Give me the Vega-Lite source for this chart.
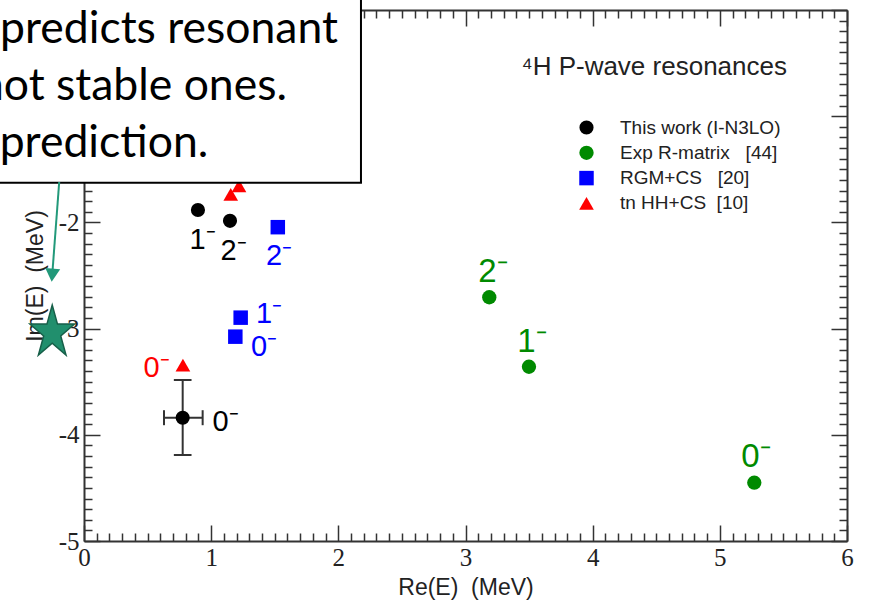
{
  "$schema": "https://vega.github.io/schema/vega-lite/v6.json",
  "width": 763,
  "height": 531,
  "autosize": {"type": "none"},
  "padding": {"left": 84, "top": 10, "right": 29, "bottom": 61},
  "background": "white",
  "datasets": {
    "points": [
      {"series": "This work (I-N3LO)", "x": 0.896, "y": -1.883},
      {"series": "This work (I-N3LO)", "x": 1.148, "y": -1.985},
      {"series": "This work (I-N3LO)", "x": 0.776, "y": -3.839},
      {"series": "Exp R-matrix\u00a0\u00a0\u00a0[44]", "x": 3.187, "y": -2.705},
      {"series": "Exp R-matrix\u00a0\u00a0\u00a0[44]", "x": 3.499, "y": -3.359},
      {"series": "Exp R-matrix\u00a0\u00a0\u00a0[44]", "x": 5.271, "y": -4.451},
      {"series": "RGM+CS\u00a0\u00a0\u00a0[20]", "x": 1.524, "y": -2.045},
      {"series": "RGM+CS\u00a0\u00a0\u00a0[20]", "x": 1.232, "y": -2.897},
      {"series": "RGM+CS\u00a0\u00a0\u00a0[20]", "x": 1.19, "y": -3.076},
      {"series": "tn HH+CS\u00a0\u00a0[10]", "x": 0.778, "y": -3.343},
      {"series": "tn HH+CS\u00a0\u00a0[10]", "x": 1.154, "y": -1.737},
      {"series": "tn HH+CS\u00a0\u00a0[10]", "x": 1.219, "y": -1.657}
    ],
    "labels": [
      {"series": "This work (I-N3LO)", "text": "1\u207b", "x": 0.933, "y": -2.166},
      {"series": "This work (I-N3LO)", "text": "2\u207b", "x": 1.177, "y": -2.265},
      {"series": "This work (I-N3LO)", "text": "0\u207b", "x": 1.113, "y": -3.877},
      {"series": "RGM+CS\u00a0\u00a0\u00a0[20]", "text": "2\u207b", "x": 1.533, "y": -2.313},
      {"series": "RGM+CS\u00a0\u00a0\u00a0[20]", "text": "1\u207b", "x": 1.455, "y": -2.864},
      {"series": "RGM+CS\u00a0\u00a0\u00a0[20]", "text": "0\u207b", "x": 1.415, "y": -3.173},
      {"series": "tn HH+CS\u00a0\u00a0[10]", "text": "0\u207b", "x": 0.571, "y": -3.375},
      {"series": "Exp R-matrix\u00a0\u00a0\u00a0[44]", "text": "2\u207b", "x": 3.216, "y": -2.469},
      {"series": "Exp R-matrix\u00a0\u00a0\u00a0[44]", "text": "1\u207b", "x": 3.523, "y": -3.123},
      {"series": "Exp R-matrix\u00a0\u00a0\u00a0[44]", "text": "0\u207b", "x": 5.284, "y": -4.206}
    ],
    "err": [
      {"x": 0.776, "y": -3.839, "xlo": 0.629, "xhi": 0.933, "ylo": -4.19, "yhi": -3.484}
    ],
    "title": [
      {"text": "\u2074H P-wave resonances", "x": 5.528, "y": -0.612}
    ],
    "box": [
      {"x1": -1, "x2": 2.178, "y1": -1.626, "y2": 0.4}
    ],
    "note": [
      {"text": "predicts resonant", "x": 1.997, "y": -0.314},
      {"text": "not stable ones.", "x": 1.596, "y": -0.847},
      {"text": "prediction.", "x": 0.977, "y": -1.381}
    ],
    "arrow": [
      {"x": -0.195, "y": -1.62, "x2": -0.25, "y2": -2.497}
    ],
    "star": [
      {"x": -0.25, "y": -3.038}
    ]
  },
  "config": {
    "view": {"stroke": null},
    "axis": {
      "grid": false,
      "domainColor": "#333333",
      "domainWidth": 2,
      "tickColor": "#333333",
      "tickWidth": 1.5,
      "labelFont": "Liberation Serif",
      "labelFontSize": 25,
      "labelColor": "#222222",
      "labelFlush": false,
      "labelOverlap": false,
      "labelBound": false,
      "titleFont": "Liberation Sans",
      "titleFontSize": 23,
      "titleFontWeight": "normal",
      "titleColor": "#222222"
    }
  },
  "resolve": {"axis": {"x": "independent", "y": "independent"}},
  "layer": [
    {
      "data": {"name": "err"},
      "mark": {"type": "rule", "color": "#333333", "strokeWidth": 2},
      "encoding": {
        "x": {"field": "xlo", "type": "quantitative", "scale": {"domain": [0, 6], "nice": false, "zero": false}, "axis": null},
        "x2": {"field": "xhi"},
        "y": {"field": "y", "type": "quantitative", "scale": {"domain": [-5, 0], "nice": false, "zero": false}, "axis": null}
      }
    },
    {
      "data": {"name": "err"},
      "mark": {"type": "rule", "color": "#333333", "strokeWidth": 2},
      "encoding": {
        "x": {"field": "x", "type": "quantitative", "scale": {"domain": [0, 6], "nice": false, "zero": false}, "axis": null},
        "y": {"field": "ylo", "type": "quantitative", "scale": {"domain": [-5, 0], "nice": false, "zero": false}, "axis": null},
        "y2": {"field": "yhi"}
      }
    },
    {
      "data": {"name": "err"},
      "transform": [{"fold": ["ylo", "yhi"], "as": ["k", "v"]}],
      "mark": {"type": "point", "shape": "stroke", "size": 313, "stroke": "#333333", "strokeWidth": 2, "filled": false, "opacity": 1},
      "encoding": {
        "x": {"field": "x", "type": "quantitative", "scale": {"domain": [0, 6], "nice": false, "zero": false}, "axis": null},
        "y": {"field": "v", "type": "quantitative", "scale": {"domain": [-5, 0], "nice": false, "zero": false}, "axis": null}
      }
    },
    {
      "data": {"name": "err"},
      "transform": [{"fold": ["xlo", "xhi"], "as": ["k", "v"]}],
      "mark": {"type": "point", "shape": "stroke", "angle": 90, "size": 225, "stroke": "#333333", "strokeWidth": 2, "filled": false, "opacity": 1},
      "encoding": {
        "x": {"field": "v", "type": "quantitative", "scale": {"domain": [0, 6], "nice": false, "zero": false}, "axis": null},
        "y": {"field": "y", "type": "quantitative", "scale": {"domain": [-5, 0], "nice": false, "zero": false}, "axis": null}
      }
    },
    {
      "data": {"name": "points"},
      "mark": {"type": "point", "filled": true, "opacity": 1, "strokeWidth": 0},
      "encoding": {
        "x": {
          "field": "x", "type": "quantitative",
          "scale": {"domain": [0, 6], "nice": false, "zero": false},
          "axis": {
            "orient": "bottom",
            "title": "Re(E)\u00a0\u00a0(MeV)",
            "values": [0,0.1,0.2,0.3,0.4,0.5,0.6,0.7,0.8,0.9,1,1.1,1.2,1.3,1.4,1.5,1.6,1.7,1.8,1.9,2,2.1,2.2,2.3,2.4,2.5,2.6,2.7,2.8,2.9,3,3.1,3.2,3.3,3.4,3.5,3.6,3.7,3.8,3.9,4,4.1,4.2,4.3,4.4,4.5,4.6,4.7,4.8,4.9,5,5.1,5.2,5.3,5.4,5.5,5.6,5.7,5.8,5.9,6],
            "tickSize": {"condition": {"test": "abs(datum.value - round(datum.value)) < 0.001", "value": -16}, "value": -8},
            "labelExpr": "abs(datum.value - round(datum.value)) < 0.001 ? '' + round(datum.value) : ''",
            "labelPadding": 20,
            "titlePadding": -2
          }
        },
        "y": {
          "field": "y", "type": "quantitative",
          "scale": {"domain": [-5, 0], "nice": false, "zero": false},
          "axis": {
            "orient": "left",
            "title": "Im(E)\u00a0\u00a0(MeV)",
            "values": [-5,-4.9,-4.8,-4.7,-4.6,-4.5,-4.4,-4.3,-4.2,-4.1,-4,-3.9,-3.8,-3.7,-3.6,-3.5,-3.4,-3.3,-3.2,-3.1,-3,-2.9,-2.8,-2.7,-2.6,-2.5,-2.4,-2.3,-2.2,-2.1,-2,-1.9,-1.8,-1.7,-1.6,-1.5,-1.4,-1.3,-1.2,-1.1,-1,-0.9,-0.8,-0.7,-0.6,-0.5,-0.4,-0.3,-0.2,-0.1,0],
            "tickSize": {"condition": {"test": "abs(datum.value - round(datum.value)) < 0.001", "value": -16}, "value": -8},
            "labelExpr": "abs(datum.value - round(datum.value)) < 0.001 && datum.value < -0.5 ? '' + round(datum.value) : ''",
            "labelPadding": 21,
            "titlePadding": 11
          }
        },
        "color": {
          "field": "series", "type": "nominal",
          "scale": {"domain": ["This work (I-N3LO)", "Exp R-matrix\u00a0\u00a0\u00a0[44]", "RGM+CS\u00a0\u00a0\u00a0[20]", "tn HH+CS\u00a0\u00a0[10]"], "range": ["#000000", "#008a00", "#0000ff", "#ff0000"]},
          "legend": {"title": null, "orient": "none", "legendX": 493, "legendY": 108, "padding": 0, "labelFont": "Liberation Sans", "labelFontSize": 19, "labelColor": "#222222", "labelOffset": 24, "rowPadding": 5.3, "labelLimit": 400, "symbolStrokeWidth": 0}
        },
        "shape": {
          "field": "series", "type": "nominal",
          "scale": {"domain": ["This work (I-N3LO)", "Exp R-matrix\u00a0\u00a0\u00a0[44]", "RGM+CS\u00a0\u00a0\u00a0[20]", "tn HH+CS\u00a0\u00a0[10]"], "range": ["circle", "circle", "square", "triangle-up"]},
          "legend": {"title": null, "orient": "none", "legendX": 493, "legendY": 108, "padding": 0, "labelFont": "Liberation Sans", "labelFontSize": 19, "labelColor": "#222222", "labelOffset": 24, "rowPadding": 5.3, "labelLimit": 400, "symbolStrokeWidth": 0}
        },
        "size": {
          "field": "series", "type": "nominal",
          "scale": {"domain": ["This work (I-N3LO)", "Exp R-matrix\u00a0\u00a0\u00a0[44]", "RGM+CS\u00a0\u00a0\u00a0[20]", "tn HH+CS\u00a0\u00a0[10]"], "range": [200, 215, 150, 180]},
          "legend": {"title": null, "orient": "none", "legendX": 493, "legendY": 108, "padding": 0, "labelFont": "Liberation Sans", "labelFontSize": 19, "labelColor": "#222222", "labelOffset": 24, "rowPadding": 5.3, "labelLimit": 400, "symbolStrokeWidth": 0}
        }
      }
    },
    {
      "data": {"name": "labels"},
      "transform": [{"filter": "datum.series != 'Exp R-matrix\u00a0\u00a0\u00a0[44]'"}],
      "mark": {"type": "text", "font": "Liberation Sans", "fontSize": 29, "align": "center", "baseline": "middle"},
      "encoding": {
        "x": {
          "field": "x", "type": "quantitative",
          "scale": {"domain": [0, 6], "nice": false, "zero": false},
          "axis": {
            "orient": "top",
            "title": null,
            "labels": false,
            "values": [0,0.1,0.2,0.3,0.4,0.5,0.6,0.7,0.8,0.9,1,1.1,1.2,1.3,1.4,1.5,1.6,1.7,1.8,1.9,2,2.1,2.2,2.3,2.4,2.5,2.6,2.7,2.8,2.9,3,3.1,3.2,3.3,3.4,3.5,3.6,3.7,3.8,3.9,4,4.1,4.2,4.3,4.4,4.5,4.6,4.7,4.8,4.9,5,5.1,5.2,5.3,5.4,5.5,5.6,5.7,5.8,5.9,6],
            "tickSize": {"condition": {"test": "abs(datum.value - round(datum.value)) < 0.001", "value": -16}, "value": -8}
          }
        },
        "y": {
          "field": "y", "type": "quantitative",
          "scale": {"domain": [-5, 0], "nice": false, "zero": false},
          "axis": {
            "orient": "right",
            "title": null,
            "labels": false,
            "values": [-5,-4.9,-4.8,-4.7,-4.6,-4.5,-4.4,-4.3,-4.2,-4.1,-4,-3.9,-3.8,-3.7,-3.6,-3.5,-3.4,-3.3,-3.2,-3.1,-3,-2.9,-2.8,-2.7,-2.6,-2.5,-2.4,-2.3,-2.2,-2.1,-2,-1.9,-1.8,-1.7,-1.6,-1.5,-1.4,-1.3,-1.2,-1.1,-1,-0.9,-0.8,-0.7,-0.6,-0.5,-0.4,-0.3,-0.2,-0.1,0],
            "tickSize": {"condition": {"test": "abs(datum.value - round(datum.value)) < 0.001", "value": -16}, "value": -8}
          }
        },
        "text": {"field": "text"},
        "color": {
          "field": "series", "type": "nominal",
          "scale": {"domain": ["This work (I-N3LO)", "Exp R-matrix\u00a0\u00a0\u00a0[44]", "RGM+CS\u00a0\u00a0\u00a0[20]", "tn HH+CS\u00a0\u00a0[10]"], "range": ["#000000", "#008a00", "#0000ff", "#ff0000"]},
          "legend": null
        }
      }
    },
    {
      "data": {"name": "labels"},
      "transform": [{"filter": "datum.series == 'Exp R-matrix\u00a0\u00a0\u00a0[44]'"}],
      "mark": {"type": "text", "font": "Liberation Sans", "fontSize": 33, "align": "center", "baseline": "middle"},
      "encoding": {
        "x": {"field": "x", "type": "quantitative", "scale": {"domain": [0, 6], "nice": false, "zero": false}, "axis": null},
        "y": {"field": "y", "type": "quantitative", "scale": {"domain": [-5, 0], "nice": false, "zero": false}, "axis": null},
        "text": {"field": "text"},
        "color": {
          "field": "series", "type": "nominal",
          "scale": {"domain": ["This work (I-N3LO)", "Exp R-matrix\u00a0\u00a0\u00a0[44]", "RGM+CS\u00a0\u00a0\u00a0[20]", "tn HH+CS\u00a0\u00a0[10]"], "range": ["#000000", "#008a00", "#0000ff", "#ff0000"]},
          "legend": null
        }
      }
    },
    {
      "data": {"name": "title"},
      "mark": {"type": "text", "font": "Liberation Sans", "fontSize": 26, "align": "right", "baseline": "alphabetic", "color": "#222222"},
      "encoding": {
        "x": {"field": "x", "type": "quantitative", "scale": {"domain": [0, 6], "nice": false, "zero": false}, "axis": null},
        "y": {"field": "y", "type": "quantitative", "scale": {"domain": [-5, 0], "nice": false, "zero": false}, "axis": null},
        "text": {"field": "text"}
      }
    },
    {
      "data": {"name": "box"},
      "mark": {"type": "rect", "fill": "#ffffff", "stroke": "#000000", "strokeWidth": 2, "clip": false},
      "encoding": {
        "x": {"field": "x1", "type": "quantitative", "scale": {"domain": [0, 6], "nice": false, "zero": false}, "axis": null},
        "x2": {"field": "x2"},
        "y": {"field": "y1", "type": "quantitative", "scale": {"domain": [-5, 0], "nice": false, "zero": false}, "axis": null},
        "y2": {"field": "y2"}
      }
    },
    {
      "data": {"name": "note"},
      "mark": {"type": "text", "font": "Lato", "fontSize": 44.5, "align": "right", "baseline": "alphabetic", "color": "#000000"},
      "encoding": {
        "x": {"field": "x", "type": "quantitative", "scale": {"domain": [0, 6], "nice": false, "zero": false}, "axis": null},
        "y": {"field": "y", "type": "quantitative", "scale": {"domain": [-5, 0], "nice": false, "zero": false}, "axis": null},
        "text": {"field": "text"}
      }
    },
    {
      "data": {"name": "arrow"},
      "mark": {"type": "rule", "color": "#22997a", "strokeWidth": 2},
      "encoding": {
        "x": {"field": "x", "type": "quantitative", "scale": {"domain": [0, 6], "nice": false, "zero": false}, "axis": null},
        "x2": {"field": "x2"},
        "y": {"field": "y", "type": "quantitative", "scale": {"domain": [-5, 0], "nice": false, "zero": false}, "axis": null},
        "y2": {"field": "y2"}
      }
    },
    {
      "data": {"name": "arrow"},
      "mark": {"type": "point", "shape": "triangle-down", "angle": 4.7, "size": 225, "filled": true, "color": "#22997a", "opacity": 1},
      "encoding": {
        "x": {"field": "x2", "type": "quantitative", "scale": {"domain": [0, 6], "nice": false, "zero": false}, "axis": null},
        "y": {"field": "y2", "type": "quantitative", "scale": {"domain": [-5, 0], "nice": false, "zero": false}, "axis": null}
      }
    },
    {
      "data": {"name": "star"},
      "mark": {"type": "point", "shape": "M0,-1L0.191,-0.309L0.808,-0.309L0.309,0.118L0.5,0.809L0,0.382L-0.5,0.809L-0.309,0.118L-0.808,-0.309L-0.191,-0.309Z", "size": 3050, "filled": true, "fill": "#218f6d", "stroke": "#175f49", "strokeWidth": 1.5, "opacity": 1},
      "encoding": {
        "x": {"field": "x", "type": "quantitative", "scale": {"domain": [0, 6], "nice": false, "zero": false}, "axis": null},
        "y": {"field": "y", "type": "quantitative", "scale": {"domain": [-5, 0], "nice": false, "zero": false}, "axis": null}
      }
    }
  ]
}
